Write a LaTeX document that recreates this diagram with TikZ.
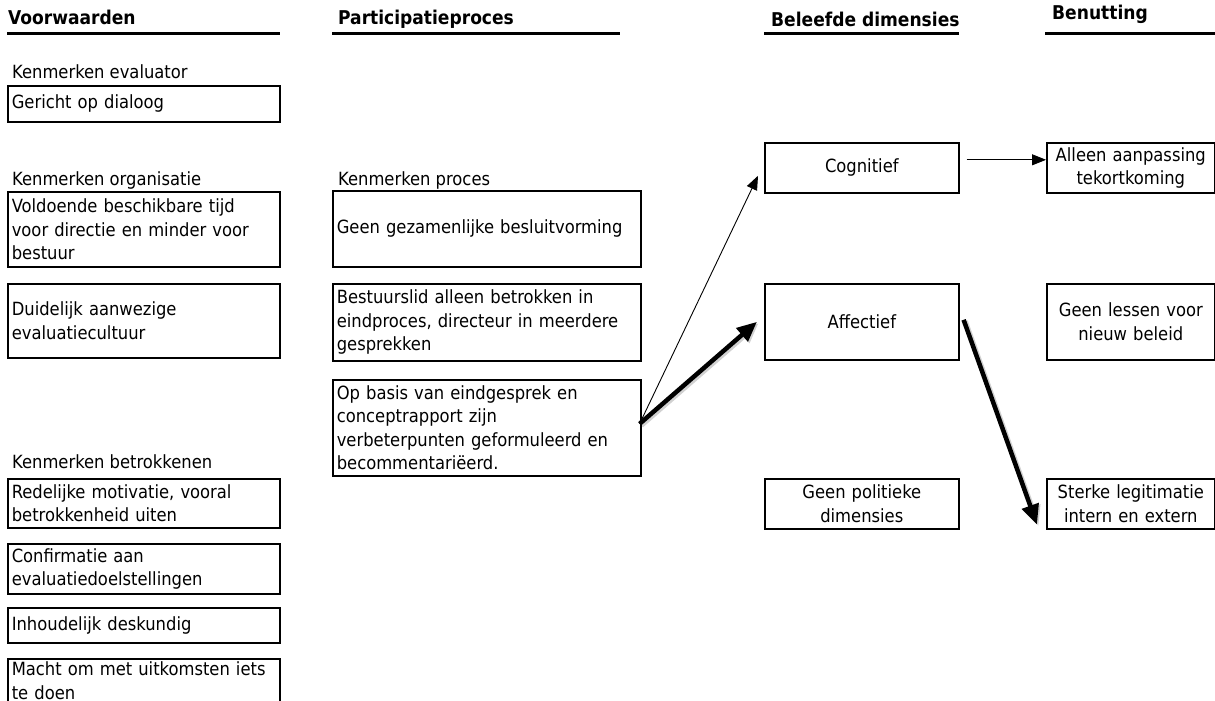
\documentclass[tikz,border=0pt]{standalone}
\usepackage{fontspec}
\setmainfont{DejaVu Sans Condensed}
\usetikzlibrary{arrows.meta,calc}
\begin{document}
\begin{tikzpicture}[x=1pt,y=1pt,
  every node/.style={font=\fontsize{18.2}{23.5}\selectfont},
  box/.style={draw,line width=1.6pt,anchor=north west,inner xsep=4pt,inner ysep=0pt},
  lbox/.style={box,align=left},
  cbox/.style={box,align=center},
  head/.style={font=\fontsize{19}{22}\selectfont\bfseries,anchor=base west,inner sep=0pt},
  rule/.style={line width=3pt},
  lab/.style={anchor=west,inner sep=0pt},
  thin/.style={line width=0.9pt,-{Triangle[length=14pt,width=11pt]}},
  thick/.style={line width=4.5pt,-{Triangle[length=20pt,width=17pt]}},
  shade/.style={draw=black,opacity=0.18,line width=5.5pt,-{Triangle[length=20pt,width=17pt]}}
]
\useasboundingbox (0,0) rectangle (1215,-701);

% column headings
\node[head] (h1) at (8,-25) {Voorwaarden};
\node[head] (h2) at (338,-25) {Participatieproces};
\node[head] (h3) at (771,-27) {Beleefde dimensies};
\node[head] (h4) at (1052,-20) {Benutting};
\draw[rule] (7,-34) -- (280,-34);
\draw[rule] (332,-34) -- (620,-34);
\draw[rule] (764,-34) -- (959,-34);
\draw[rule] (1045,-34) -- (1215,-34);

% Voorwaarden
\node[lab] (l1) at (12,-72) {Kenmerken evaluator};
\node[lbox,text width=264pt,minimum height=36pt] (gericht) at (7,-85) {Gericht op dialoog};
\node[lab] (l2) at (12,-180) {Kenmerken organisatie};
\node[lbox,text width=264pt,minimum height=75pt] (voldoende) at (7,-191)
  {Voldoende beschikbare tijd\\voor directie en minder voor\\bestuur};
\node[lbox,text width=264pt,minimum height=74pt] (duidelijk) at (7,-283)
  {Duidelijk aanwezige\\evaluatiecultuur};
\node[lab] (l3) at (12,-462) {Kenmerken betrokkenen};
\node[lbox,text width=264pt,minimum height=49pt] (redelijk) at (7,-478)
  {Redelijke motivatie, vooral\\betrokkenheid uiten};
\node[lbox,text width=264pt,minimum height=50pt] (confirm) at (7,-543)
  {Confirmatie aan\\evaluatiedoelstellingen};
\node[lbox,text width=264pt,minimum height=35pt] (inhoud) at (7,-607)
  {Inhoudelijk deskundig};
\node[lbox,text width=264pt,minimum height=44pt] (macht) at (7,-658)
  {Macht om met uitkomsten iets\\te doen};

% Participatieproces
\node[lab] (l4) at (338,-180) {Kenmerken proces};
\node[lbox,text width=300pt,minimum height=76pt] (gezamenlijk) at (332,-190)
  {Geen gezamenlijke besluitvorming};
\node[lbox,text width=300pt,minimum height=77pt] (bestuurslid) at (332,-283)
  {Bestuurslid alleen betrokken in\\eindproces, directeur in meerdere\\gesprekken};
\node[lbox,text width=300pt,minimum height=96pt] (opbasis) at (332,-379)
  {Op basis van eindgesprek en\\conceptrapport zijn\\verbeterpunten geformuleerd en\\becommentariëerd.};

% Beleefde dimensies
\node[cbox,text width=186pt,minimum height=50pt] (cog) at (764,-142) {Cognitief};
\node[cbox,text width=186pt,minimum height=76pt] (aff) at (764,-283) {Affectief};
\node[cbox,text width=186pt,minimum height=50pt] (pol) at (764,-478) {Geen politieke\\dimensies};

% Benutting
\node[cbox,text width=160pt,minimum height=50pt] (alleen) at (1046,-142) {Alleen aanpassing\\tekortkoming};
\node[cbox,text width=160pt,minimum height=76pt] (lessen) at (1046,-283) {Geen lessen voor\\nieuw beleid};
\node[cbox,text width=160pt,minimum height=50pt] (sterke) at (1046,-478) {Sterke legitimatie\\intern en extern};

% connectors
\coordinate (s1) at ($(opbasis.east)+(-2,4)$);
\coordinate (t1) at ($(cog.west)+(-6,-8)$);
\coordinate (t2) at ($(aff.west)+(-7,0)$);
\coordinate (s3) at ($(aff.east)+(4,2)$);
\coordinate (t3) at ($(sterke.south west)+(-9,5)$);
\draw[shade] ($(s1)+(1.5,-1.5)$) -- ($(t2)+(1.5,-1.5)$);
\draw[shade] ($(s3)+(1.5,-1.5)$) -- ($(t3)+(1.5,-1.5)$);
\draw[thin] (s1) -- (t1);
\draw[thick] (s1) -- (t2);
\draw[thick] (s3) -- (t3);
\draw[thin] ($(cog.east)+(7,8)$) -- ($(alleen.west)+(0,8)$);
\end{tikzpicture}
\end{document}
